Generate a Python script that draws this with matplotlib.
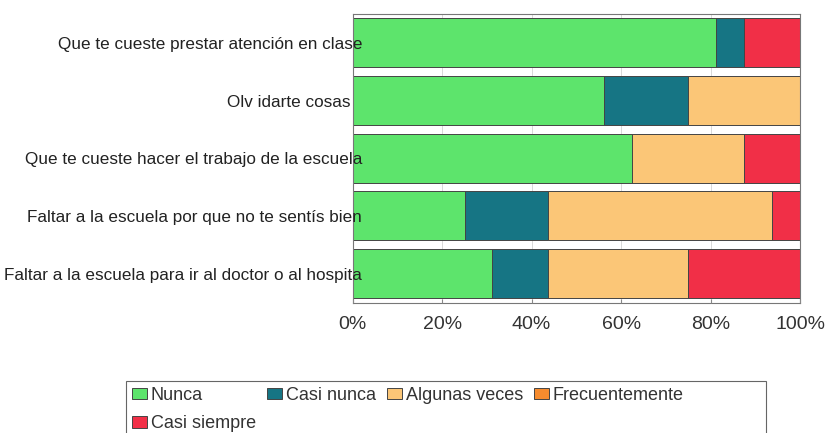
import matplotlib.pyplot as plt
import numpy as np
from matplotlib.patches import Rectangle
from matplotlib.transforms import ScaledTranslation

plt.rcParams['font.family'] = ['Liberation Sans', 'DejaVu Sans']

items = ["Que te cueste prestar atención en clase",
         "Olv idarte cosas",
         "Que te cueste hacer el trabajo de la escuela",
         "Faltar a la escuela por que no te sentís bien",
         "Faltar a la escuela para ir al doctor o al hospita"]
series = ["Nunca", "Casi nunca", "Algunas veces", "Frecuentemente", "Casi siempre"]
colors = ["#5de46c", "#167584", "#fbc677", "#f68b2e", "#f12f47"]

nunca = [81.25, 56.25, 62.5, 25.0, 31.25]
casi_nunca = [6.25, 18.75, 0.0, 18.75, 12.5]
algunas = [0.0, 25.0, 25.0, 50.0, 31.25]
frecuente = [0.0, 0.0, 0.0, 0.0, 0.0]
casi_siempre = [12.5, 0.0, 12.5, 6.25, 25.0]
values = [nunca, casi_nunca, algunas, frecuente, casi_siempre]

W, H = 826, 433
fig = plt.figure(figsize=(W / 100, H / 100), dpi=100)
ax = fig.add_axes([352.7 / W, 1 - 302.5 / H, 447.3 / W, 288.5 / H])

y = np.arange(len(items))
left = np.zeros(len(items))
handles = []
for name, vals, c in zip(series, values, colors):
    b = ax.barh(y, vals, left=left, height=0.85, color=c,
                edgecolor="#444444", linewidth=0.7, label=name, zorder=2)
    handles.append(b)
    left += np.array(vals)

ax.set_xlim(0, 100)
ax.set_ylim(len(items) - 0.5, -0.5)
ax.set_xticks([0, 20, 40, 60, 80, 100])
ax.set_xticklabels(["0%", "20%", "40%", "60%", "80%", "100%"])
ax.set_axisbelow(False)  # labels overlap the bars, so draw the axis on top
# gridlines kept behind the bars
for xv in ax.get_xticks()[1:-1]:
    ax.axvline(xv, color="#d2d2d2", linewidth=0.6, zorder=0.5)
ax.tick_params(axis="x", direction="in", length=3, color="#888888",
               labelsize=14, labelcolor="#333333", pad=9.5)
ax.set_yticks(y)
ax.set_yticklabels(items)
ax.tick_params(axis="y", length=0, labelsize=12.3, labelcolor="#222222", pad=-6.7)
for i, lab in enumerate(ax.get_yticklabels()):
    if i == 1:
        lab.set_transform(lab.get_transform() + ScaledTranslation(-12 / 100, 0, fig.dpi_scale_trans))
for s in ax.spines.values():
    s.set_color("#777777")
    s.set_linewidth(0.8)

# legend box (cut off at the bottom like the original)
fig.patches.append(Rectangle((126 / W, -0.05), 640 / W, 0.05 + 1 - 381 / H,
                             transform=fig.transFigure, fill=False,
                             edgecolor="#666666", linewidth=0.8))
order = [0, 4, 1, 2, 3]
leg = fig.legend([handles[i] for i in order], [series[i] for i in order],
                 loc="upper left", bbox_to_anchor=(132 / W, 1 - 387 / H),
                 ncol=4, fontsize=13, frameon=False,
                 handlelength=0.85, handleheight=0.6,
                 handletextpad=0.2, columnspacing=0.6, borderpad=0,
                 labelspacing=0.62, borderaxespad=0)
for t in leg.get_texts():
    t.set_color("#333333")

fig.savefig("out.png", dpi=100)
